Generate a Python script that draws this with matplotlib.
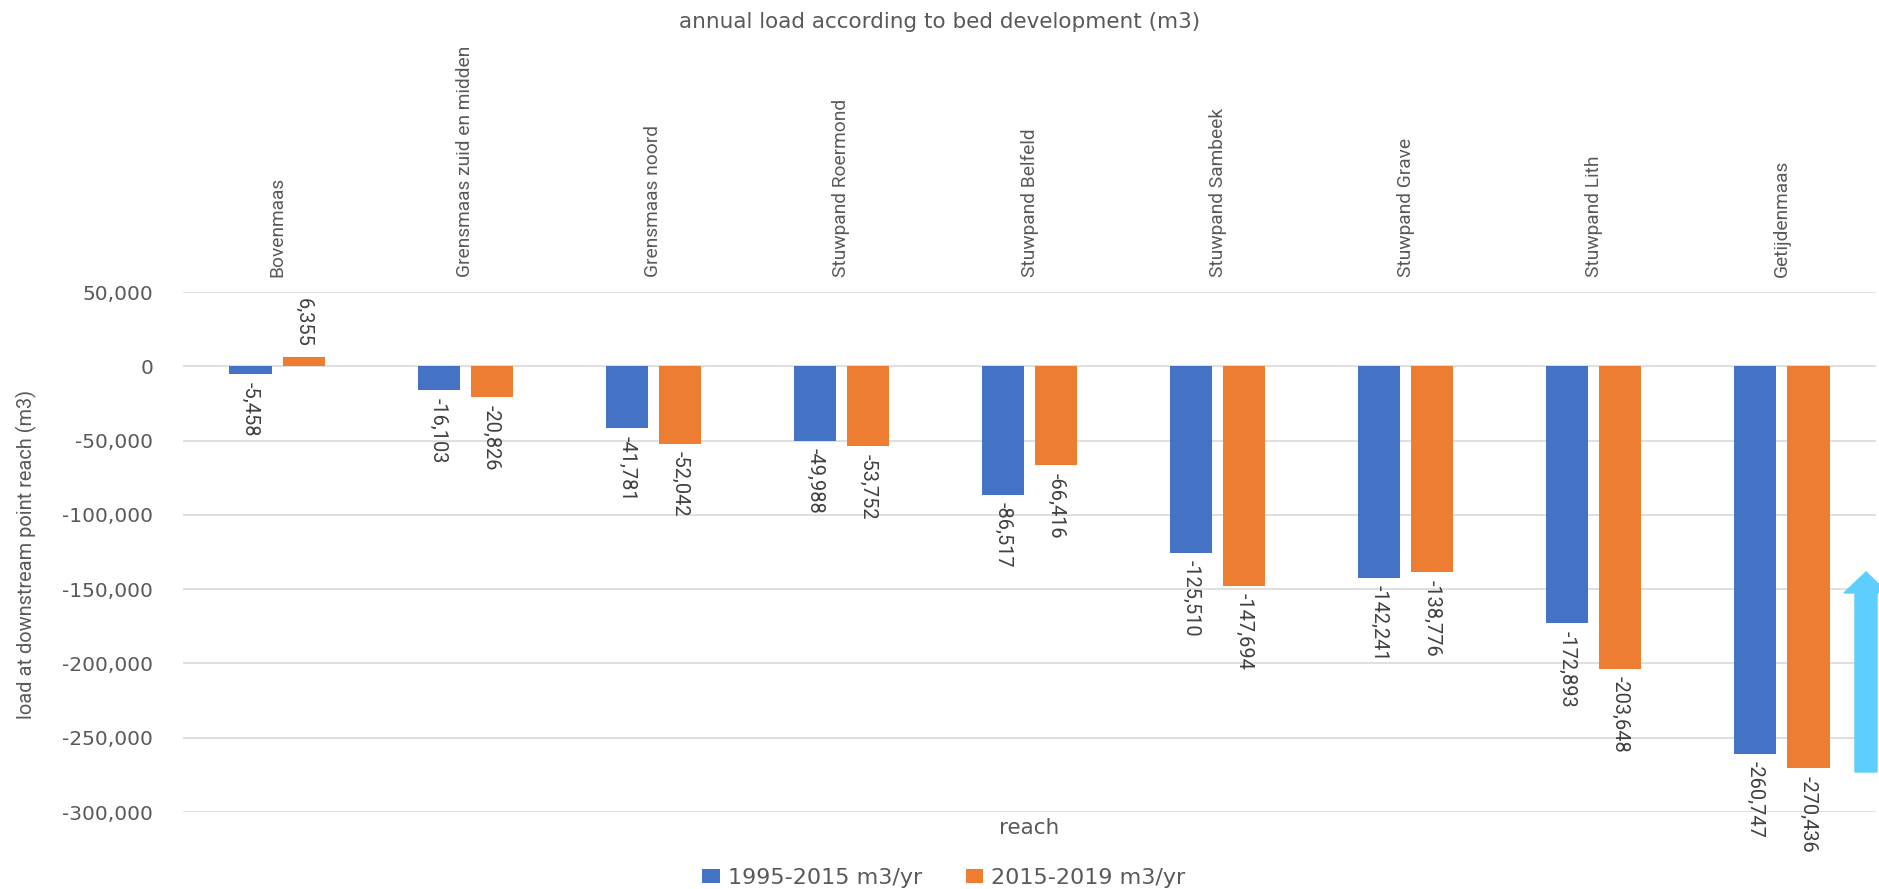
import matplotlib
matplotlib.use("Agg")
import matplotlib.pyplot as plt
from matplotlib.patches import FancyArrow
from matplotlib.ticker import FuncFormatter
import numpy as np

reaches = ["Bovenmaas", "Grensmaas zuid en midden", "Grensmaas noord",
           "Stuwpand Roermond", "Stuwpand Belfeld", "Stuwpand Sambeek",
           "Stuwpand Grave", "Stuwpand Lith", "Getijdenmaas"]
load_1995_2015 = [-5458, -16103, -41781, -49988, -86517, -125510, -142241, -172893, -260747]
load_2015_2019 = [6355, -20826, -52042, -53752, -66416, -147694, -138776, -203648, -270436]
series_names = ["1995-2015 m3/yr", "2015-2019 m3/yr"]

grey = "#595959"
plt.rcParams["font.family"] = ["DejaVu Sans"]

fig = plt.figure(figsize=(18.79, 8.89), dpi=100)
ax = fig.add_axes([183 / 1879, 1 - 812 / 889, (1876 - 183) / 1879, (812 - 292) / 889])

x = np.arange(len(reaches))
w = 0.224
off = 0.141
b1 = ax.bar(x - off, load_1995_2015, w, color="#4472C4", label=series_names[0], zorder=3)
b2 = ax.bar(x + off, load_2015_2019, w, color="#ED7D31", label=series_names[1], zorder=3)

# value labels, written top-to-bottom beside the bar end
for bars, vals in [(b1, load_1995_2015), (b2, load_2015_2019)]:
    for rect, v in zip(bars, vals):
        cx = rect.get_x() + rect.get_width() / 2
        if v < 0:
            ax.annotate(f"{v:,}", (cx, v), xytext=(0, -5.5), textcoords="offset points",
                        rotation=270, ha="center", va="top", fontsize=14.4,
                        color="#404040", family="Roboto", annotation_clip=False)
        else:
            ax.annotate(f"{v:,}", (cx, v), xytext=(0, 7), textcoords="offset points",
                        rotation=270, ha="center", va="bottom", fontsize=14.4,
                        color="#404040", family="Roboto", annotation_clip=False)

# reach names above the plot area
for i, name in enumerate(reaches):
    ax.text(i, 1.029, name, transform=ax.get_xaxis_transform(), rotation=90,
            ha="center", va="bottom", fontsize=13.8, color=grey, family="Roboto")

ax.set_xlim(-0.5, len(reaches) - 0.5)
ax.set_ylim(-300000, 50000)
ax.set_yticks(np.arange(-300000, 50001, 50000))
ax.yaxis.set_major_formatter(FuncFormatter(lambda v, p: f"{int(v):,}"))
ax.tick_params(axis="y", length=0, pad=21.6, labelsize=14.5, labelcolor=grey)
ax.set_xticks([])
ax.grid(axis="y", color="#d9d9d9", linewidth=1.2, zorder=0)
for s in ax.spines.values():
    s.set_visible(False)

fig.text(1029 / 1879, 1 - 828 / 889, "reach", ha="center", va="center",
         fontsize=15.5, color=grey)
fig.text(26 / 1879, 1 - 554 / 889, "load at downstream point reach (m3)", rotation=90,
         ha="center", va="center", fontsize=14.4, color=grey, family="Roboto")
fig.text(0.5, 1 - 22 / 889, "annual load according to bed development (m3)",
         ha="center", va="center", fontsize=15.5, color=grey)

fig.legend(handles=[b1, b2], loc="center", bbox_to_anchor=(944 / 1879, 1 - 878 / 889),
           ncol=2, frameon=False, fontsize=16, labelcolor=grey, handlelength=0.77,
           handleheight=0.55, handletextpad=0.36, columnspacing=2.0)

# upward arrow at the right edge
arrow = FancyArrow(18.66, (889 - 772) / 100, 0, (772 - 572) / 100, width=0.22,
                   head_width=0.44, head_length=0.21, length_includes_head=True,
                   color="#5ECEFD", transform=fig.dpi_scale_trans, clip_on=False)
fig.patches.append(arrow)

fig.savefig("out.png", dpi=100)
